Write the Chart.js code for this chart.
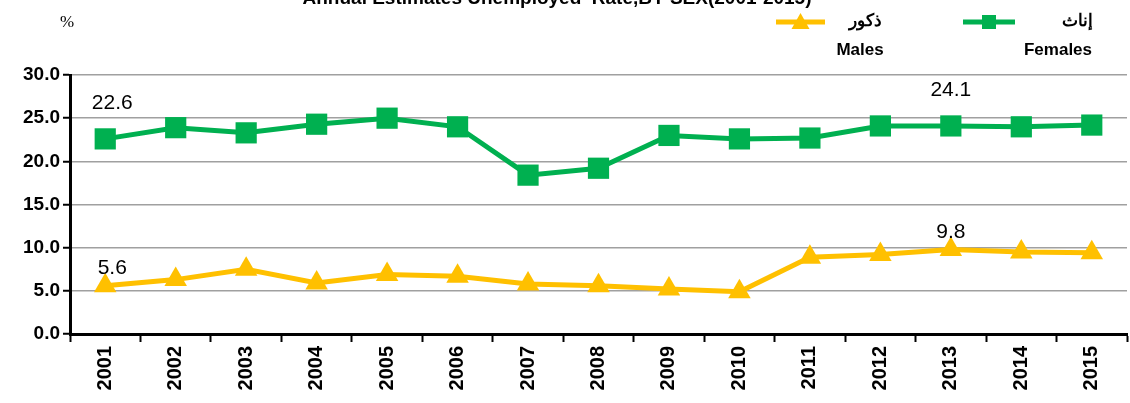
<!DOCTYPE html>
<html>
<head>
<meta charset="utf-8">
<script src="https://cdn.jsdelivr.net/npm/chart.js@4/dist/chart.umd.min.js"></script>
<style>
  body { margin: 0; background: #fff; overflow: hidden; }
  #wrap { width: 1130px; height: 403px; overflow: hidden; }
</style>
</head>
<body>
<div id="wrap"><canvas id="chart" width="1142" height="403"></canvas></div>
<script>
// data
var years = ['2001','2002','2003','2004','2005','2006','2007','2008',
             '2009','2010','2011','2012','2013','2014','2015'];
var females = [22.6, 23.9, 23.3, 24.3, 25.0, 24.0, 18.4, 19.2, 23.0, 22.6, 22.7, 24.1, 24.1, 24.0, 24.2];
var males = [5.6, 6.3, 7.5, 5.9, 6.9, 6.7, 5.8, 5.6, 5.2, 4.9, 8.9, 9.2, 9.8, 9.5, 9.4];
var yTicks = [0, 5, 10, 15, 20, 25, 30];
var labelled = [0, 12]; // points that carry a value label

var GREEN = '#00B050';
var GOLD = '#FFC000';

// title, legend, % sign and the few value labels
var extras = {
  id: 'extras',
  afterDatasetsDraw: function(chart) {
    var ctx = chart.ctx;
    ctx.save();
    ctx.fillStyle = '#000';
    ctx.textAlign = 'center';
    ctx.textBaseline = 'alphabetic';
    ctx.font = 'bold 19px "Liberation Sans", Arial, sans-serif';
    ctx.fillText('Annual Estimates Unemployed  Rate,BY SEX(2001-2015)', 557, 4);

    ctx.font = '17px "Liberation Serif", serif';
    ctx.fillText('%', 67, 27);

    // legend
    function legendLine(x1, x2, y, color, style) {
      ctx.strokeStyle = color;
      ctx.lineWidth = 5;
      ctx.beginPath(); ctx.moveTo(x1, y); ctx.lineTo(x2, y); ctx.stroke();
      ctx.fillStyle = color;
      var cx = (x1 + x2) / 2;
      if (style === 'rect') {
        ctx.fillRect(cx - 7, y - 7, 14, 14);
      } else {
        ctx.beginPath();
        ctx.moveTo(cx, y - 9); ctx.lineTo(cx + 9, y + 7); ctx.lineTo(cx - 9, y + 7);
        ctx.closePath(); ctx.fill();
      }
    }
    legendLine(963, 1015, 22, GREEN, 'rect');
    legendLine(776, 825, 22, GOLD, 'triangle');
    ctx.fillStyle = '#000';
    ctx.font = 'bold 17px "Liberation Sans", Arial, sans-serif';
    ctx.textBaseline = 'middle';
    ctx.fillText('إناث', 1077, 21);
    ctx.fillText('ذكور', 865, 21);
    ctx.fillText('Females', 1058, 50);
    ctx.fillText('Males', 860, 50);

    // value labels
    ctx.font = '21px "Liberation Sans", Arial, sans-serif';
    var offs = [[7, -36], [7, -17]];
    chart.data.datasets.forEach(function(ds, di) {
      var meta = chart.getDatasetMeta(di);
      labelled.forEach(function(i) {
        var pt = meta.data[i];
        var dx = i === 0 ? offs[di][0] : 0;
        ctx.fillText(ds.data[i].toFixed(1), pt.x + dx, pt.y + offs[di][1]);
      });
    });
    ctx.restore();
  }
};

new Chart(document.getElementById('chart'), {
  type: 'line',
  data: {
    labels: years,
    datasets: [
      {
        label: 'Females',
        data: females,
        borderColor: GREEN,
        backgroundColor: GREEN,
        borderWidth: 5,
        pointStyle: 'rect',
        pointRadius: 15,
        pointBorderWidth: 0,
        tension: 0
      },
      {
        label: 'Males',
        data: males,
        borderColor: GOLD,
        backgroundColor: GOLD,
        borderWidth: 5,
        pointStyle: 'triangle',
        pointRadius: 13,
        pointBorderWidth: 0,
        tension: 0
      }
    ]
  },
  options: {
    responsive: false,
    animation: false,
    layout: { padding: { top: 75, right: 3, left: 0, bottom: 0 } },
    plugins: {
      legend: { display: false },
      title: { display: false },
      tooltip: { enabled: false }
    },
    scales: {
      x: {
        offset: true,
        grid: {
          offset: true,
          drawOnChartArea: false,
          drawTicks: true,
          tickLength: 8,
          tickColor: '#000',
          tickWidth: 2
        },
        border: { display: true, color: '#000', width: 3 },
        ticks: {
          minRotation: 90,
          maxRotation: 90,
          padding: 4,
          color: '#000',
          font: { family: '"Liberation Sans", Arial, sans-serif', size: 20, weight: 'bold' }
        },
        afterFit: function(s) { s.height = 69; }
      },
      y: {
        min: 0,
        max: 30,
        afterBuildTicks: function(s) {
          s.ticks = yTicks.map(function(v) { return { value: v }; });
        },
        grid: {
          color: '#a0a0a0',
          lineWidth: 1.5,
          tickLength: 7,
          tickColor: '#000',
          tickWidth: 2
        },
        border: { display: true, color: '#000', width: 3 },
        ticks: {
          padding: 3,
          color: '#000',
          callback: function(v) { return Number(v).toFixed(1); },
          font: { family: '"Liberation Sans", Arial, sans-serif', size: 19, weight: 'bold' }
        },
        afterFit: function(s) { s.width = 70; }
      }
    }
  },
  plugins: [extras]
});
</script>
</body>
</html>
